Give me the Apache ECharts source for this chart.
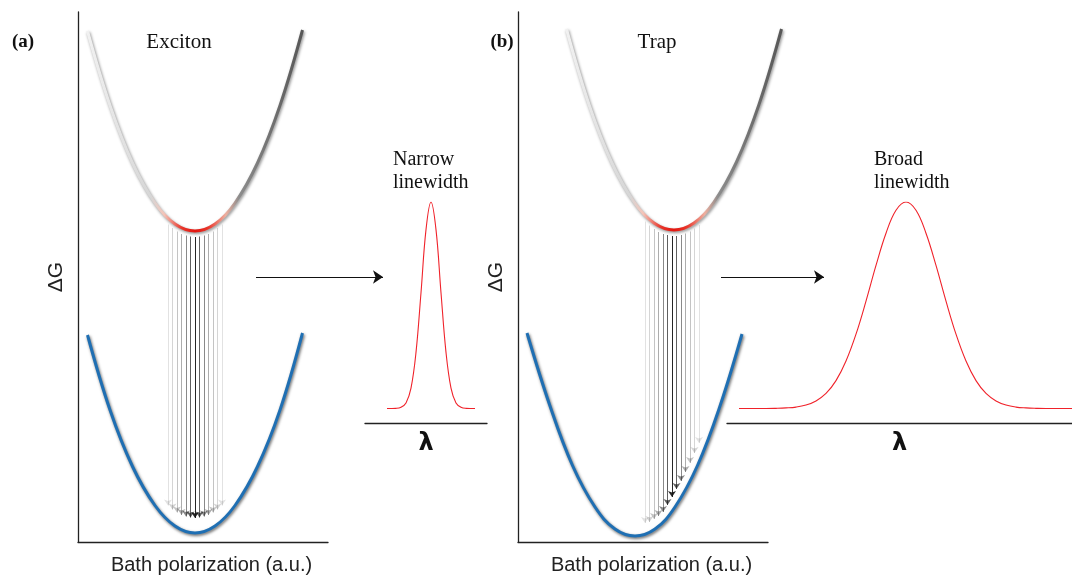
<!DOCTYPE html>
<html>
<head>
<meta charset="utf-8">
<script src="https://cdn.jsdelivr.net/npm/echarts@6/dist/echarts.min.js"></script>
<style>
html,body{margin:0;padding:0;background:#fff}
#main{width:1072px;height:575px}
</style>
</head>
<body>
<div id="main"></div>
<script>
// ---- values (arbitrary units) ----
// (a) exciton: excited (upper) and ground (lower) free energy vs bath polarization
var exUpperQ = [-4.3, -3.4, -2.5, -1.6, -0.8, 0, 0.8, 1.6, 2.5, 3.4, 4.3];
var exUpperE = [10.22, 8.73, 7.58, 6.78, 6.36, 6.22, 6.36, 6.78, 7.58, 8.73, 10.24];
var exLowerQ = [-4.3, -3.4, -2.5, -1.6, -0.8, 0, 0.8, 1.6, 2.5, 3.4, 4.3];
var exLowerE = [4.14, 2.64, 1.51, 0.73, 0.32, 0.18, 0.32, 0.73, 1.51, 2.64, 4.18];
// vertical transitions: position, start and arrow tip
var exTransQ = [-1.08, -0.9, -0.72, -0.54, -0.36, -0.18, 0, 0.18, 0.36, 0.54, 0.72, 0.9, 1.08];
var exTransTop = [6.35, 6.28, 6.21, 6.16, 6.13, 6.11, 6.10, 6.11, 6.13, 6.16, 6.21, 6.28, 6.35];
var exTransTip = [0.73, 0.65, 0.59, 0.54, 0.51, 0.49, 0.48, 0.49, 0.51, 0.54, 0.59, 0.65, 0.73];

// (b) trap: ground state displaced along the bath coordinate
var trUpperQ = [-4.3, -3.4, -2.5, -1.6, -0.8, 0, 0.8, 1.6, 2.5, 3.4, 4.3];
var trUpperE = [10.26, 8.75, 7.60, 6.80, 6.38, 6.24, 6.38, 6.80, 7.60, 8.75, 10.26];
var trLowerQ = [-5.88, -4.96, -4.06, -3.16, -2.36, -1.56, -0.76, 0.04, 0.94, 1.84, 2.72];
var trLowerE = [4.18, 2.72, 1.53, 0.70, 0.26, 0.12, 0.26, 0.70, 1.53, 2.72, 4.16];
var trTransQ = [-1.16, -0.98, -0.8, -0.62, -0.44, -0.26, -0.08, 0.1, 0.28, 0.46, 0.64, 0.82, 1.0];
var trTransTop = [6.41, 6.33, 6.26, 6.20, 6.16, 6.14, 6.12, 6.12, 6.14, 6.17, 6.21, 6.27, 6.34];
var trTransTip = [0.38, 0.40, 0.46, 0.52, 0.60, 0.74, 0.90, 1.06, 1.22, 1.40, 1.58, 1.78, 1.98];

// emission spectra (normalised intensity vs wavelength)
var narrowL = [-4.4, -3.5, -3, -2.5, -2, -1.5, -1, -0.5, 0, 0.5, 1, 1.5, 2, 2.5, 3, 3.5, 4.4];
var narrowI = [0, 0.001, 0.006, 0.027, 0.099, 0.272, 0.561, 0.866, 1, 0.866, 0.561, 0.272, 0.099, 0.027, 0.006, 0.001, 0];
var broadL = [-16.7, -14, -13, -12, -11, -10, -9, -8, -7, -6, -5, -4, -3, -2, -1, 0,
              1, 2, 3, 4, 5, 6, 7, 8, 9, 10, 11, 12, 13, 14, 16.6];
var broadI = [0, 0, 0.001, 0.003, 0.007, 0.017, 0.037, 0.073, 0.135, 0.23, 0.36, 0.52, 0.693, 0.849, 0.96, 1,
              0.96, 0.849, 0.693, 0.52, 0.36, 0.23, 0.135, 0.073, 0.037, 0.017, 0.007, 0.003, 0.001, 0, 0];

// "energy -> spectrum" arrows, in each diagram's own units
var exArrow = [[2.44, 5.3], [7.52, 5.3]];
var trArrow = [[1.88, 5.3], [6.0, 5.3]];

// ---- styles ----
var transAlpha = [0.12, 0.18, 0.25, 0.35, 0.5, 0.68, 0.92, 0.68, 0.5, 0.35, 0.25, 0.18, 0.12];
var serif = 'Liberation Serif';
var sans = 'Liberation Sans';

function pairs(xs, ys) {
  return xs.map(function (x, i) { return [x, ys[i]]; });
}
function transitions(qs, tops, tips) {
  return qs.map(function (q, i) {
    return {
      coords: [[q, tops[i]], [q, tips[i]]],
      lineStyle: { color: 'rgba(20,20,20,' + transAlpha[i] + ')' }
    };
  });
}

var upperGrad = {
  type: 'linear', x: 0, y: 0, x2: 1, y2: 0,
  colorStops: [
    { offset: 0, color: '#f2f2f2' },
    { offset: 0.3, color: '#d6d6d6' },
    { offset: 0.36, color: '#f4c4b8' },
    { offset: 0.44, color: '#e8372c' },
    { offset: 0.5, color: '#e3160f' },
    { offset: 0.56, color: '#e8372c' },
    { offset: 0.64, color: '#eeb0a0' },
    { offset: 0.7, color: '#8c8c8c' },
    { offset: 1, color: '#555' }
  ]
};

var hidden = { show: false };
function energyAxisX(idx, min, max, frame) {
  return {
    gridIndex: idx, type: 'value', min: min, max: max,
    axisLine: { show: frame, onZero: false, lineStyle: { color: '#222', width: 1.3 } },
    axisTick: hidden, axisLabel: hidden, splitLine: hidden,
    name: frame ? 'Bath polarization (a.u.)' : '', nameLocation: 'middle', nameGap: 13,
    nameTextStyle: { fontFamily: sans, fontSize: 20, color: '#222', padding: [0, 0, 0, 17] }
  };
}
function energyAxisY(idx, frame) {
  return {
    gridIndex: idx, type: 'value', min: 0, max: 10.6,
    axisLine: { show: frame, onZero: false, lineStyle: { color: '#222', width: 1.3 } },
    axisTick: hidden, axisLabel: hidden, splitLine: hidden,
    name: frame ? 'ΔG' : '', nameLocation: 'middle', nameGap: 11, nameRotate: 90,
    nameTextStyle: { fontFamily: sans, fontSize: 21, color: '#222' }
  };
}
function specAxisX(idx, min, max) {
  return {
    gridIndex: idx, type: 'value', min: min, max: max,
    axisLine: { show: true, onZero: false, lineStyle: { color: '#222', width: 1.3 } },
    axisTick: hidden, axisLabel: hidden, splitLine: hidden,
    name: 'λ', nameLocation: 'middle', nameGap: 9,
    nameTextStyle: { fontFamily: 'DejaVu Sans', fontSize: 24, fontWeight: 'bold', color: '#111' }
  };
}
function specAxisY(idx) {
  return { gridIndex: idx, type: 'value', min: -0.07, max: 1, show: false };
}

function curve(ax, data, color, shadow) {
  return {
    type: 'line', xAxisIndex: ax, yAxisIndex: ax, data: data, smooth: 0.4,
    showSymbol: false, silent: true, clip: false, z: 3,
    lineStyle: {
      color: color, width: 3,
      shadowColor: shadow, shadowBlur: 3, shadowOffsetX: 1, shadowOffsetY: 1.5
    }
  };
}
function transSeries(ax, data) {
  return {
    type: 'lines', coordinateSystem: 'cartesian2d', xAxisIndex: ax, yAxisIndex: ax,
    data: data, symbol: ['none', 'arrow'], symbolSize: 6, silent: true, z: 1,
    lineStyle: { width: 1, opacity: 1 }
  };
}
function arrowSeries(ax, coords) {
  return {
    type: 'lines', coordinateSystem: 'cartesian2d', xAxisIndex: ax, yAxisIndex: ax,
    data: [{ coords: coords }], symbol: ['none', 'arrow'], symbolSize: 10,
    clip: false, silent: true, z: 2,
    lineStyle: { color: '#111', width: 1.2, opacity: 1 }
  };
}
function spectrum(ax, data) {
  return {
    type: 'line', xAxisIndex: ax, yAxisIndex: ax, data: data, smooth: 0.4,
    showSymbol: false, silent: true,
    lineStyle: { color: '#f0222a', width: 1.1 }
  };
}

function txt(t, x, y, font, align) {
  return {
    type: 'text', x: x, y: y, silent: true,
    style: { text: t, font: font, fill: '#111', align: align || 'center', verticalAlign: 'middle' }
  };
}
function grid(left, top, width, height) {
  return { left: left, top: top, width: width, height: height, containLabel: false, outerBoundsMode: 'none' };
}

var chart = echarts.init(document.getElementById('main'));
chart.setOption({
  animation: false,
  backgroundColor: '#fff',
  grid: [
    grid(78, 12, 250, 530),   // 0: (a) diagram
    grid(518, 12, 250, 530),  // 1: (b) frame
    grid(365, 202, 122, 221), // 2: narrow spectrum
    grid(727, 202, 345, 221), // 3: broad spectrum
    grid(518, 12, 275, 530)   // 4: (b) diagram data
  ],
  xAxis: [
    energyAxisX(0, -4.68, 5.32, true),
    energyAxisX(1, -6.24, 3.76, true),
    specAxisX(2, -6.6, 5.6),
    specAxisX(3, -17.9, 16.6),
    energyAxisX(4, -6.24, 4.76, false)
  ],
  yAxis: [energyAxisY(0, true), energyAxisY(1, true), specAxisY(2), specAxisY(3), energyAxisY(4, false)],
  graphic: [
    txt('(a)', 23, 42, 'bold 19px "' + serif + '"'),
    txt('Exciton', 179, 42, '21px "' + serif + '"'),
    txt('(b)', 502, 42, 'bold 19px "' + serif + '"'),
    txt('Trap', 657, 42, '21px "' + serif + '"'),
    txt('Narrow', 393, 160, '20px "' + serif + '"', 'left'),
    txt('linewidth', 393, 183, '20px "' + serif + '"', 'left'),
    txt('Broad', 874, 160, '20px "' + serif + '"', 'left'),
    txt('linewidth', 874, 183, '20px "' + serif + '"', 'left')
  ],
  series: [
    transSeries(0, transitions(exTransQ, exTransTop, exTransTip)),
    curve(0, pairs(exUpperQ, exUpperE), upperGrad, 'rgba(0,0,0,0.45)'),
    curve(0, pairs(exLowerQ, exLowerE), '#1f6fb3', 'rgba(0,0,0,0.6)'),
    arrowSeries(0, exArrow),

    transSeries(4, transitions(trTransQ, trTransTop, trTransTip)),
    curve(4, pairs(trUpperQ, trUpperE), upperGrad, 'rgba(0,0,0,0.45)'),
    curve(4, pairs(trLowerQ, trLowerE), '#1f6fb3', 'rgba(0,0,0,0.6)'),
    arrowSeries(4, trArrow),

    spectrum(2, pairs(narrowL, narrowI)),
    spectrum(3, pairs(broadL, broadI))
  ]
});
</script>
</body>
</html>
